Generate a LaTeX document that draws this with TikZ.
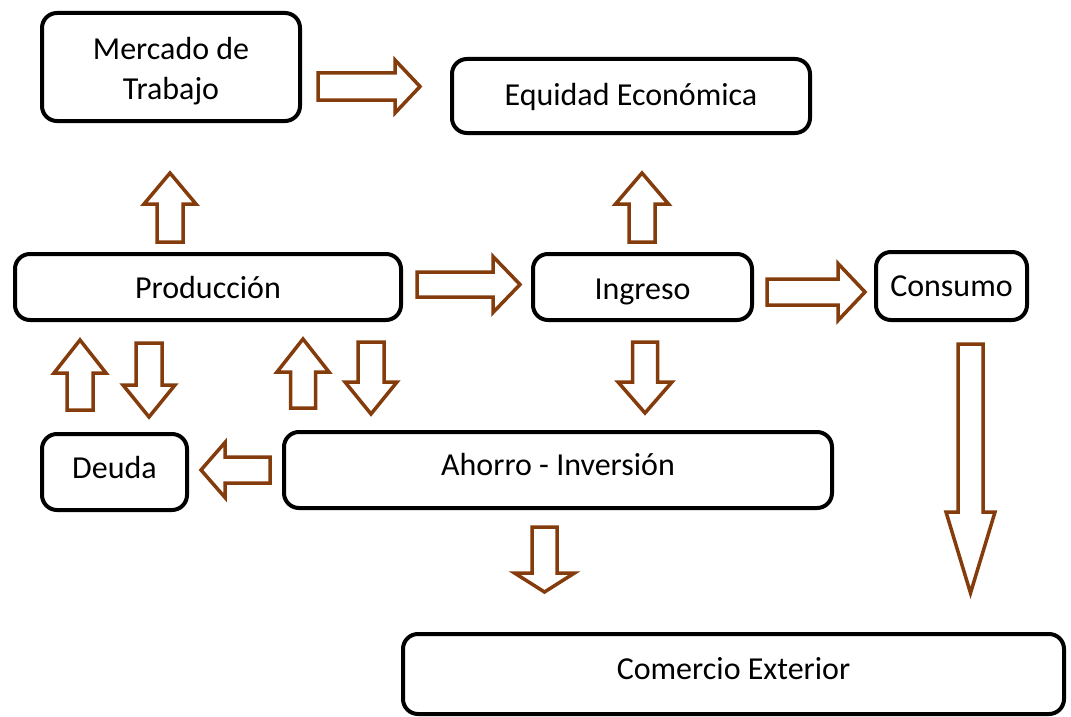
\documentclass[tikz,border=0pt]{standalone}
\usepackage{fontspec}
\setmainfont{Carlito}
\definecolor{arrbrown}{RGB}{132,60,12}
\tikzset{
  box/.style={draw=black, line width=4pt, rounded corners=15pt, fill=white,
    font=\fontsize{32}{40}\selectfont, align=center, inner sep=0pt},
  onebox/.style={box, text height=22pt, text depth=7pt},
  barrowstyle/.style={draw=arrbrown, line width=3.5pt, fill=white, miter limit=10}
}
% #1 x, #2 y (tail centre), #3 angle, #4 length, #5 shaft half width, #6 head half width, #7 head length
\newcommand\barrow[7]{%
  \begin{scope}[shift={(#1,#2)}, rotate=#3]
    \draw[barrowstyle] (0,-#5) -- ({#4-#7},-#5) -- ({#4-#7},-#6) -- (#4,0)
      -- ({#4-#7},#6) -- ({#4-#7},#5) -- (0,#5) -- cycle;
  \end{scope}}
\begin{document}
\begin{tikzpicture}[x=1pt,y=-1pt]
\useasboundingbox (0,0) rectangle (1071,717);
\fill[white] (0,0) rectangle (1071,717);
% boxes
\node[box, minimum width=258pt, minimum height=108pt] (mercado) at (171,67) {\rule{0pt}{30pt}Mercado de\\Trabajo};
\node[onebox, minimum width=358pt, minimum height=74pt] (equidad) at (631,96) {\raisebox{-2pt}{Equidad Económica}};
\node[onebox, minimum width=386pt, minimum height=66pt] (produccion) at (208,287) {\raisebox{-4pt}{Producción}};
\node[onebox, minimum width=219pt, minimum height=66pt] (ingreso) at (642.5,287) {\raisebox{-5pt}{Ingreso}};
\node[onebox, minimum width=151pt, minimum height=68pt] (consumo) at (951.5,286) {\raisebox{-3pt}{Consumo}};
\node[onebox, minimum width=145pt, minimum height=76pt] (deuda) at (114.5,472) {\raisebox{1pt}{Deuda}};
\node[onebox, minimum width=548pt, minimum height=76pt] (ahorro) at (558,470) {\raisebox{2pt}{Ahorro - Inversión}};
\node[onebox, minimum width=661pt, minimum height=80pt] (comercio) at (733.5,674) {\raisebox{2pt}{Comercio Exterior}};
% block arrows
\barrow{318}{86.5}{0}{102}{13.5}{26.5}{25}
\barrow{170}{242}{90}{69}{13}{26}{31}
\barrow{642}{242}{90}{69}{13}{26.5}{31}
\barrow{417}{284.5}{0}{103}{12.5}{28}{27}
\barrow{767}{292}{0}{98}{13}{28.5}{27}
\barrow{80}{410}{90}{70}{13}{26}{33}
\barrow{149}{343}{-90}{74}{13}{26}{32}
\barrow{303}{408}{90}{69}{12.5}{26}{33}
\barrow{371}{342}{-90}{72}{13}{26}{32}
\barrow{645}{342}{-90}{71}{12.5}{27}{31}
\barrow{270}{470}{180}{69}{13}{27.5}{24}
\barrow{544.5}{527}{-90}{65}{12.5}{30}{19}
\barrow{970.5}{344}{-90}{249}{12.5}{24.5}{81}
\end{tikzpicture}
\end{document}
